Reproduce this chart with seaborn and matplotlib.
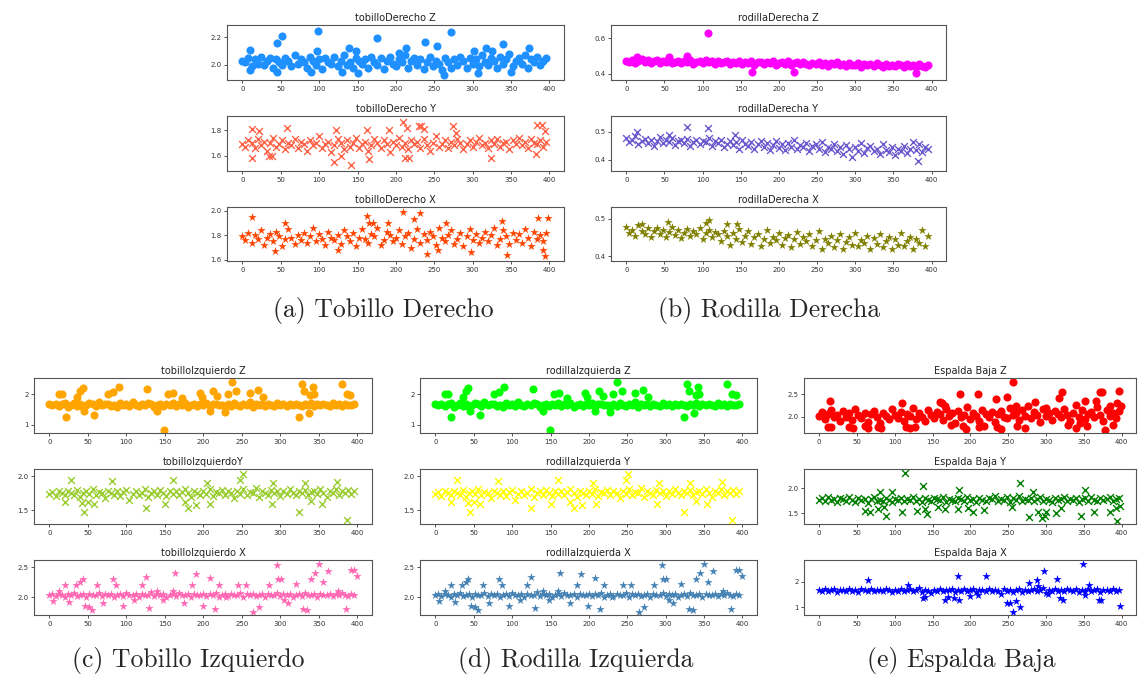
import numpy as np
import pandas as pd
import seaborn as sns
import matplotlib.pyplot as plt

# sample index of the base readings (every 4th frame)
idx = list(range(0, 400, 4))

# ---- (a) tobillo derecho ----
tdz = [2.03,2.02,2.05,1.99,2.04,2.01,2.06,2.00,2.03,2.05,
       1.98,2.04,2.02,2.00,2.05,2.03,1.99,2.07,2.01,2.04,
       2.02,1.98,2.06,2.03,2.00,2.04,1.97,2.05,2.02,2.01,
       2.06,1.99,2.03,2.07,2.00,2.02,1.98,2.05,2.03,2.01,
       2.04,1.98,2.06,2.02,2.00,2.05,1.97,2.03,2.06,2.01,
       1.99,2.04,2.02,2.07,1.98,2.03,2.05,2.00,2.04,1.97,
       2.02,2.06,1.99,2.03,2.01,1.96,2.05,2.02,1.98,2.04,
       2.00,2.06,2.03,1.98,2.05,2.01,2.04,1.99,2.07,2.02,
       2.00,2.05,2.03,1.98,2.06,2.01,2.04,2.08,1.99,2.03,
       2.05,2.01,2.07,1.98,2.04,2.02,2.06,2.00,2.03,2.05]
tdz_ox = [45,52,99,175,238,253,272,339,10,97,139,148,204,213,302,317,325,373,10,45,89,130,151,263,307,350]
tdz_oy = [2.16,2.21,2.245,2.195,2.165,2.135,2.24,2.15,2.11,2.1,2.12,2.1,2.09,2.12,2.1,2.12,2.1,2.12,1.96,1.95,1.95,1.95,1.94,1.93,1.94,1.945]

tdy = [1.69,1.67,1.72,1.70,1.66,1.73,1.68,1.71,1.64,1.70,
       1.74,1.67,1.69,1.72,1.65,1.70,1.68,1.73,1.66,1.71,
       1.69,1.64,1.72,1.68,1.70,1.75,1.66,1.69,1.71,1.63,
       1.68,1.73,1.70,1.65,1.72,1.67,1.70,1.74,1.66,1.69,
       1.71,1.64,1.68,1.73,1.70,1.66,1.72,1.69,1.63,1.71,
       1.68,1.74,1.67,1.70,1.65,1.72,1.69,1.71,1.66,1.73,
       1.68,1.64,1.70,1.75,1.67,1.69,1.72,1.66,1.71,1.68,
       1.73,1.70,1.65,1.69,1.72,1.67,1.71,1.74,1.68,1.70,
       1.66,1.72,1.69,1.73,1.67,1.70,1.71,1.65,1.72,1.69,
       1.74,1.68,1.71,1.66,1.73,1.70,1.69,1.72,1.67,1.71]
tdy_ox = [12,12,22,35,39,58,120,122,142,128,163,165,191,209,214,212,217,230,233,236,275,278,324,383,384,390,394]
tdy_oy = [1.58,1.81,1.79,1.6,1.6,1.82,1.55,1.8,1.53,1.6,1.8,1.57,1.8,1.86,1.82,1.58,1.58,1.83,1.83,1.81,1.83,1.78,1.58,1.61,1.84,1.84,1.79]

tdx = [1.79,1.76,1.82,1.74,1.80,1.77,1.84,1.72,1.78,1.81,
       1.75,1.83,1.79,1.71,1.77,1.85,1.78,1.73,1.80,1.76,
       1.82,1.74,1.79,1.86,1.75,1.81,1.77,1.72,1.83,1.78,
       1.76,1.80,1.73,1.84,1.79,1.75,1.82,1.71,1.78,1.85,
       1.77,1.74,1.81,1.79,1.86,1.72,1.76,1.83,1.80,1.75,
       1.78,1.84,1.73,1.79,1.82,1.70,1.77,1.85,1.74,1.81,
       1.76,1.83,1.79,1.72,1.86,1.78,1.75,1.80,1.84,1.73,
       1.77,1.82,1.71,1.79,1.85,1.76,1.81,1.74,1.78,1.83,
       1.75,1.80,1.86,1.72,1.77,1.84,1.79,1.73,1.82,1.76,
       1.81,1.74,1.85,1.78,1.71,1.83,1.77,1.80,1.75,1.82]
tdx_ox = [13,43,56,125,162,209,232,240,255,298,338,345,385,392,394,398,165,170,190,223,265]
tdx_oy = [1.95,1.67,1.9,1.68,1.96,1.99,1.98,1.65,1.68,1.66,1.92,1.64,1.94,1.68,1.63,1.94,1.9,1.9,1.9,1.93,1.9]

# ---- (b) rodilla derecha ----
rdz = [0.472,0.465,0.478,0.460,0.470,0.482,0.463,0.475,0.458,0.469,
       0.477,0.462,0.471,0.466,0.480,0.459,0.468,0.474,0.461,0.470,
       0.465,0.476,0.457,0.468,0.472,0.460,0.475,0.463,0.469,0.455,
       0.471,0.462,0.466,0.474,0.452,0.467,0.460,0.470,0.456,0.465,
       0.462,0.471,0.450,0.463,0.468,0.455,0.466,0.459,0.472,0.451,
       0.461,0.466,0.454,0.469,0.448,0.460,0.465,0.452,0.463,0.457,
       0.447,0.462,0.455,0.466,0.450,0.458,0.445,0.461,0.453,0.464,
       0.449,0.457,0.443,0.460,0.451,0.446,0.458,0.440,0.455,0.448,
       0.452,0.443,0.459,0.447,0.438,0.454,0.445,0.450,0.441,0.456,
       0.446,0.437,0.452,0.443,0.449,0.435,0.455,0.444,0.440,0.451]
rdz_ox = [107,14,56,80,165,220,380]
rdz_oy = [0.63,0.495,0.495,0.5,0.41,0.41,0.405]

rdy = [0.478,0.462,0.470,0.485,0.455,0.468,0.475,0.460,0.472,0.450,
       0.466,0.480,0.458,0.469,0.463,0.476,0.452,0.467,0.471,0.459,
       0.474,0.448,0.465,0.470,0.456,0.468,0.462,0.478,0.450,0.466,
       0.460,0.472,0.445,0.457,0.468,0.452,0.463,0.440,0.470,0.455,
       0.448,0.462,0.438,0.456,0.466,0.445,0.459,0.436,0.452,0.468,
       0.443,0.455,0.434,0.461,0.447,0.470,0.438,0.452,0.444,0.460,
       0.432,0.448,0.455,0.440,0.465,0.428,0.446,0.437,0.456,0.430,
       0.445,0.420,0.452,0.438,0.412,0.447,0.432,0.460,0.425,0.442,
       0.450,0.430,0.440,0.422,0.455,0.436,0.428,0.445,0.418,0.438,
       0.430,0.448,0.425,0.440,0.462,0.435,0.455,0.428,0.445,0.440]
rdy_ox = [80,107,382,14,143,56]
rdy_oy = [0.515,0.513,0.395,0.498,0.488,0.488]

rdx = [0.478,0.462,0.470,0.455,0.482,0.466,0.458,0.474,0.450,0.468,
       0.476,0.460,0.471,0.452,0.465,0.479,0.457,0.469,0.448,0.463,
       0.472,0.455,0.466,0.460,0.475,0.446,0.462,0.470,0.451,0.464,
       0.458,0.440,0.468,0.453,0.430,0.461,0.445,0.472,0.438,0.455,
       0.466,0.433,0.450,0.460,0.428,0.447,0.470,0.436,0.452,0.442,
       0.462,0.430,0.448,0.456,0.425,0.445,0.465,0.433,0.450,0.440,
       0.458,0.428,0.443,0.466,0.420,0.447,0.435,0.455,0.425,0.442,
       0.460,0.418,0.438,0.450,0.430,0.462,0.426,0.444,0.435,0.455,
       0.420,0.448,0.432,0.458,0.425,0.440,0.452,0.418,0.445,0.430,
       0.462,0.428,0.440,0.450,0.420,0.445,0.435,0.470,0.428,0.455]
rdx_ox = [55,108,105,132,145,20]
rdx_oy = [0.49,0.497,0.488,0.485,0.487,0.487]

# ---- (c)/(d) tobillo / rodilla izquierda (same readings) ----
tiz = [1.67,1.64,1.70,1.62,1.68,1.73,1.60,1.66,1.71,1.63,
       1.69,1.58,1.65,1.72,1.67,1.61,1.74,1.64,1.68,1.70,
       1.62,1.66,1.59,1.71,1.65,1.68,1.63,1.75,1.66,1.61,
       1.69,1.64,1.72,1.67,1.60,1.65,1.70,1.63,1.68,1.66,
       1.71,1.62,1.67,1.64,1.73,1.60,1.66,1.69,1.63,1.68,
       1.65,1.72,1.61,1.67,1.70,1.64,1.66,1.58,1.69,1.63,
       1.71,1.66,1.62,1.68,1.65,1.74,1.60,1.67,1.64,1.70,
       1.63,1.68,1.66,1.61,1.72,1.65,1.69,1.62,1.67,1.64,
       1.70,1.66,1.63,1.68,1.65,1.71,1.62,1.67,1.64,1.69,
       1.66,1.61,1.72,1.65,1.68,1.63,1.70,1.66,1.64,1.67]
tiz_ox = [13,16,21,36,40,43,45,58,76,83,90,127,140,149,154,161,172,195,198,208,213,218,228,232,
          237,243,260,271,277,324,328,331,337,339,342,344,380,387,391]
tiz_oy = [2.0,2.0,1.27,1.9,2.1,2.22,1.45,1.33,2.0,2.08,2.26,2.17,1.45,0.83,2.0,2.03,1.88,2.05,1.9,1.45,2.1,1.95,1.42,2.0,
          2.42,2.12,2.05,2.14,1.9,1.27,2.35,2.1,1.4,1.98,2.24,2.0,2.33,2.0,1.98]

tiy = [1.74,1.77,1.71,1.79,1.75,1.72,1.78,1.76,1.73,1.80,
       1.70,1.76,1.78,1.74,1.81,1.72,1.77,1.75,1.69,1.79,
       1.76,1.73,1.78,1.71,1.77,1.80,1.66,1.74,1.79,1.72,
       1.76,1.82,1.70,1.75,1.78,1.73,1.80,1.76,1.71,1.78,
       1.74,1.79,1.72,1.77,1.81,1.75,1.70,1.78,1.76,1.73,
       1.79,1.74,1.82,1.71,1.77,1.75,1.80,1.72,1.78,1.76,
       1.68,1.79,1.74,1.81,1.72,1.77,1.75,1.83,1.70,1.78,
       1.76,1.73,1.80,1.75,1.78,1.71,1.79,1.74,1.82,1.76,
       1.72,1.78,1.75,1.80,1.73,1.77,1.79,1.74,1.81,1.76,
       1.70,1.78,1.75,1.82,1.73,1.79,1.76,1.80,1.74,1.78]
tiy_ox = [20,28,42,45,50,58,81,125,150,160,176,180,191,205,209,248,251,289,291,324,332,340,354,374,386]
tiy_oy = [1.63,1.95,1.61,1.48,1.62,1.6,1.93,1.53,1.6,1.95,1.62,1.54,1.58,1.91,1.59,1.95,2.04,1.6,1.9,1.47,1.91,1.64,1.6,1.92,1.36]

tix = [2.03,2.05,2.02,2.06,2.04,2.01,2.05,2.03,2.07,2.02,
       2.04,2.06,2.01,2.05,2.03,2.04,2.07,2.02,2.05,2.03,
       2.06,2.01,2.04,2.05,2.02,2.07,2.03,2.04,2.06,2.01,
       2.05,2.03,2.04,2.08,2.02,2.05,2.03,2.06,2.01,2.04,
       2.05,2.02,2.07,2.03,2.04,2.06,2.01,2.05,2.03,2.04,
       2.06,2.02,2.05,2.03,2.07,2.01,2.04,2.05,2.02,2.06,
       2.03,2.04,2.07,2.01,2.05,2.03,2.06,2.02,2.04,2.05,
       2.01,2.06,2.03,2.04,2.07,2.02,2.05,2.03,2.06,2.01,
       2.04,2.05,2.02,2.07,2.03,2.04,2.06,2.01,2.05,2.03,
       2.04,2.06,2.02,2.05,2.03,2.07,2.04,2.02,2.05,2.04]
tix_ox = [5,12,20,25,35,40,43,46,52,55,62,70,83,87,96,110,120,125,130,140,148,160,163,175,185,190,199,
          208,215,220,230,245,255,265,272,285,295,297,301,310,320,330,340,345,350,355,362,375,385,392,396,399,305,335]
tix_oy = [1.93,2.1,2.2,1.92,2.2,2.25,2.3,1.85,1.83,1.78,2.2,1.9,2.3,2.2,1.85,1.95,2.2,2.33,1.82,2.1,1.95,2.1,2.4,1.9,2.2,2.38,1.85,
          2.32,1.8,2.2,2.0,2.2,2.2,1.76,1.83,2.2,2.54,2.3,2.3,1.9,2.22,1.8,2.3,2.4,2.55,2.25,2.43,2.1,1.8,2.45,2.46,2.35,1.95,1.78]

# ---- (e) espalda baja ----
ebz = [2.02,2.10,1.95,2.06,2.15,1.98,2.04,1.90,2.12,2.00,
       2.07,1.93,2.18,2.03,1.96,2.09,1.88,2.05,2.13,1.99,
       1.85,2.08,2.01,1.94,2.16,2.04,1.97,2.11,1.91,2.06,
       2.02,2.20,1.95,2.08,2.00,1.89,2.14,2.03,1.97,2.10,
       2.05,1.92,2.17,2.01,2.07,1.86,2.12,1.98,2.04,2.22,
       1.94,2.09,2.02,1.90,2.15,2.06,1.99,2.11,1.87,2.05,
       2.13,2.00,1.96,2.19,2.03,2.08,1.92,2.14,2.01,2.24,
       1.97,2.10,2.04,1.88,2.16,2.02,2.07,1.93,2.12,2.05,
       1.99,2.18,2.03,1.91,2.09,2.26,2.00,2.14,1.95,2.06,
       2.11,1.98,2.21,2.04,1.90,2.15,2.02,2.08,1.96,2.12]
ebz_ox = [14,12,16,40,45,60,64,78,82,109,115,120,127,160,163,167,175,186,190,194,210,212,218,234,235,240,248,
          257,260,262,272,286,300,317,321,329,340,345,352,354,366,371,374,378,384,389,394,396,399]
ebz_oy = [2.35,1.76,1.77,1.77,1.74,1.78,1.75,1.76,1.75,2.3,1.76,1.74,1.76,2.33,2.3,2.25,1.8,2.52,1.78,1.72,2.5,1.76,1.78,2.4,1.76,1.72,2.44,
          2.78,2.25,1.78,1.74,2.33,2.2,2.43,2.55,1.82,1.74,1.85,2.35,1.78,2.36,2.55,2.55,1.7,2.25,1.8,2.3,2.58,2.25]

eby = [1.77,1.80,1.74,1.82,1.76,1.79,1.72,1.81,1.78,1.75,
       1.83,1.77,1.73,1.80,1.76,1.79,1.71,1.78,1.82,1.75,
       1.77,1.74,1.80,1.76,1.73,1.79,1.77,1.81,1.74,1.78,
       1.76,1.82,1.75,1.79,1.72,1.80,1.77,1.74,1.81,1.78,
       1.76,1.83,1.73,1.79,1.77,1.75,1.80,1.78,1.74,1.82,
       1.76,1.79,1.73,1.81,1.77,1.75,1.80,1.78,1.84,1.74,
       1.79,1.76,1.82,1.73,1.80,1.77,1.85,1.75,1.79,1.76,
       1.81,1.74,1.78,1.82,1.75,1.79,1.77,1.73,1.80,1.76,
       1.78,1.82,1.74,1.79,1.76,1.81,1.73,1.78,1.80,1.75,
       1.83,1.77,1.74,1.80,1.76,1.79,1.82,1.75,1.78,1.80]
eby_ox = [60,67,78,80,86,88,96,110,114,130,137,140,143,157,166,184,185,197,203,218,255,265,278,283,290,295,
          299,300,313,320,346,352,363,385,392,394,398]
eby_oy = [1.55,1.52,1.58,1.92,1.62,1.45,1.93,1.52,2.31,1.55,2.05,1.58,1.48,1.62,1.58,1.58,1.96,1.6,1.52,1.56,1.62,2.11,1.43,1.93,1.52,1.4,
          1.45,1.52,1.5,1.6,1.45,1.96,1.52,1.52,1.6,1.35,1.65]

ebx = [1.68,1.64,1.70,1.62,1.67,1.71,1.60,1.66,1.69,1.63,
       1.72,1.65,1.68,1.61,1.70,1.66,1.64,1.73,1.62,1.67,
       1.69,1.63,1.71,1.66,1.60,1.68,1.65,1.72,1.62,1.67,
       1.70,1.64,1.66,1.74,1.61,1.68,1.63,1.55,1.69,1.65,
       1.71,1.62,1.67,1.66,1.73,1.60,1.68,1.64,1.70,1.63,
       1.67,1.72,1.61,1.66,1.69,1.64,1.71,1.62,1.68,1.65,
       1.52,1.70,1.63,1.67,1.58,1.66,1.73,1.61,1.69,1.64,
       1.68,1.71,1.62,1.66,1.75,1.55,1.67,1.63,1.70,1.65,
       1.69,1.62,1.72,1.66,1.64,1.71,1.60,1.68,1.65,1.73,
       1.63,1.67,1.70,1.61,1.66,1.69,1.64,1.72,1.62,1.68]
ebx_ox = [64,117,138,140,167,170,178,183,185,200,210,220,248,252,256,260,265,278,288,290,298,303,314,318,322,
          349,352,357,370,373,398]
ebx_oy = [2.05,1.87,1.35,1.4,1.3,1.4,1.37,2.2,1.27,1.43,1.47,2.23,1.18,1.18,0.8,1.25,1.03,1.93,2.05,1.82,2.4,1.5,2.1,1.35,1.3,
          2.7,1.48,1.85,1.28,1.3,1.06]

W, H = 1139, 679
sns.set_style("ticks")
plt.rcParams['font.family'] = ['DejaVu Sans']
plt.rcParams['axes.edgecolor'] = '#555555'
plt.rcParams['axes.linewidth'] = 0.8

fig = plt.figure(figsize=(W / 100, H / 100), dpi=100)


def panel(left, right, top, bottom, base, ox, oy, color, marker, title, ylim, yticks):
    ax = fig.add_axes([left / W, 1 - bottom / H, (right - left) / W, (bottom - top) / H])
    df = pd.DataFrame({"i": idx + ox, "v": base + oy})
    if marker == "x":
        sns.scatterplot(data=df, x="i", y="v", ax=ax, color=color, marker="x", s=24, linewidth=1.0)
    else:
        sns.scatterplot(data=df, x="i", y="v", ax=ax, color=color, marker=marker,
                        s=34 if marker == "o" else 40, linewidth=0)
    ax.set_xlim(-20, 419)
    ax.set_ylim(*ylim)
    ax.set_xticks(range(0, 401, 50))
    ax.set_yticks(yticks)
    ax.set_xlabel("")
    ax.set_ylabel("")
    ax.set_title(title, fontsize=7, pad=3, color='#222222')
    ax.tick_params(labelsize=5, length=2, width=0.6, pad=2, colors='#333333')
    return ax


rows_top = [(25, 80), (116, 171), (207, 261)]
rows_bot = [(378, 433), (469, 524), (560, 615)]

# (a)
panel(227, 564, *rows_top[0], tdz, tdz_ox, tdz_oy, "dodgerblue", "o", "tobilloDerecho Z", (1.89, 2.29), [2.0, 2.2])
panel(227, 564, *rows_top[1], tdy, tdy_ox, tdy_oy, "tomato", "x", "tobilloDerecho Y", (1.48, 1.91), [1.6, 1.8])
panel(227, 564, *rows_top[2], tdx, tdx_ox, tdx_oy, "orangered", "*", "tobilloDerecho X", (1.59, 2.03), [1.6, 1.8, 2.0])
# (b)
panel(611, 946, *rows_top[0], rdz, rdz_ox, rdz_oy, "magenta", "o", "rodillaDerecha Z", (0.364, 0.675), [0.4, 0.6])
panel(611, 946, *rows_top[1], rdy, rdy_ox, rdy_oy, "slateblue", "x", "rodillaDerecha Y", (0.361, 0.555), [0.4, 0.5])
panel(611, 946, *rows_top[2], rdx, rdx_ox, rdx_oy, "olive", "*", "rodillaDerecha X", (0.387, 0.531), [0.4, 0.5])
# (c)
panel(34, 372, *rows_bot[0], tiz, tiz_ox, tiz_oy, "orange", "o", "tobilloIzquierdo Z", (0.73, 2.54), [1, 2])
panel(34, 372, *rows_bot[1], tiy, tiy_ox, tiy_oy, "yellowgreen", "x", "tobilloIzquierdoY", (1.30, 2.11), [1.5, 2.0])
panel(34, 372, *rows_bot[2], tix, tix_ox, tix_oy, "hotpink", "*", "tobilloIzquierdo X", (1.705, 2.62), [2.0, 2.5])
# (d)
panel(420, 757, *rows_bot[0], tiz, tiz_ox, tiz_oy, "lime", "o", "rodillaIzquierda Z", (0.73, 2.54), [1, 2])
panel(420, 757, *rows_bot[1], tiy, tiy_ox, tiy_oy, "yellow", "x", "rodillaIzquierda Y", (1.30, 2.11), [1.5, 2.0])
panel(420, 757, *rows_bot[2], tix, tix_ox, tix_oy, "steelblue", "*", "rodillaIzquierda X", (1.705, 2.62), [2.0, 2.5])
# (e)
panel(804, 1136, *rows_bot[0], ebz, ebz_ox, ebz_oy, "red", "o", "Espalda Baja Z", (1.63, 2.87), [2.0, 2.5])
panel(804, 1136, *rows_bot[1], eby, eby_ox, eby_oy, "green", "x", "Espalda Baja Y", (1.28, 2.39), [1.5, 2.0])
panel(804, 1136, *rows_bot[2], ebx, ebx_ox, ebx_oy, "blue", "*", "Espalda Baja X", (0.70, 2.84), [1, 2])

captions = [("(a) Tobillo Derecho", 383, 311), ("(b) Rodilla Derecha", 769, 311),
            ("(c) Tobillo Izquierdo", 188, 661), ("(d) Rodilla Izquierda", 576, 661),
            ("(e) Espalda Baja", 961, 661)]
for txt, cx, cy in captions:
    fig.text(cx / W, 1 - cy / H, txt, ha="center", va="center", fontsize=18.5, family="cmr10")

fig.savefig("out.png", dpi=100, facecolor="white")
